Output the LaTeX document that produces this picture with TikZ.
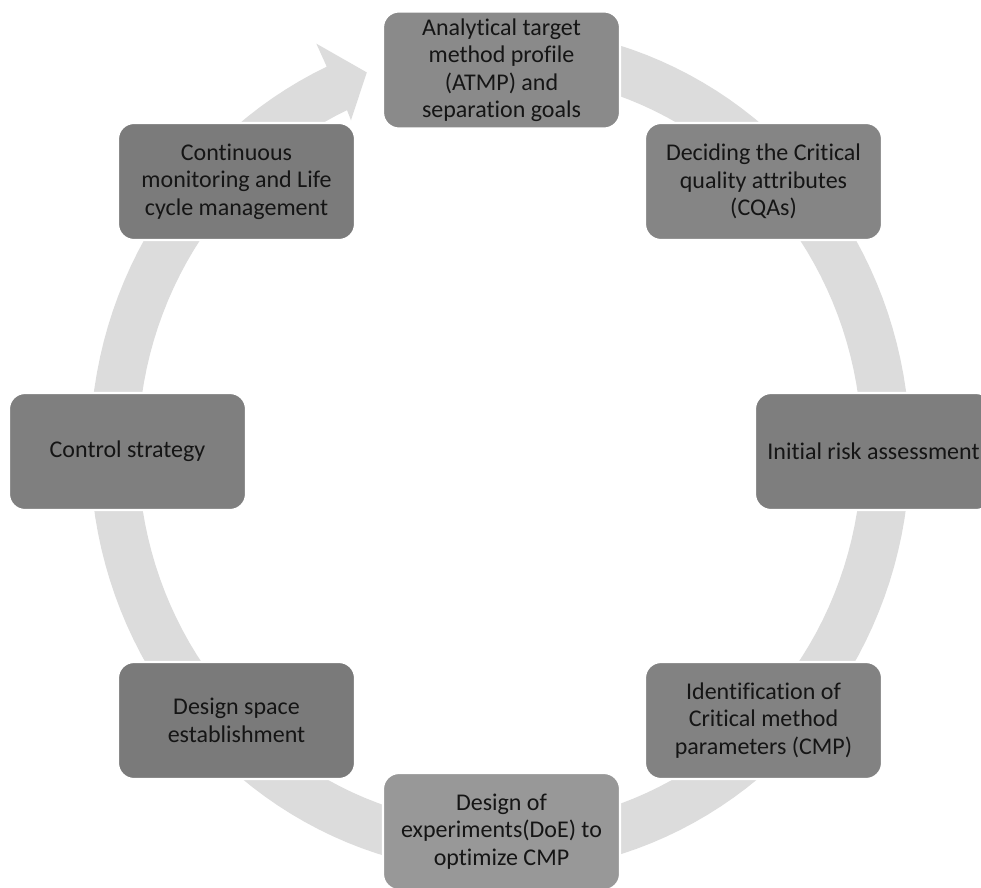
\documentclass[tikz,border=0pt]{standalone}
\usepackage{fontspec}
\setmainfont{Carlito}[Ligatures={NoCommon,NoContextual}]
\definecolor{ringgray}{HTML}{DCDCDC}
\definecolor{boxA}{HTML}{8A8A8A}
\definecolor{boxB}{HTML}{858585}
\definecolor{boxC}{HTML}{7E7E7E}
\definecolor{boxD}{HTML}{828282}
\definecolor{boxE}{HTML}{989898}
\definecolor{boxF}{HTML}{7A7A7A}
\definecolor{boxG}{HTML}{7F7F7F}
\definecolor{boxH}{HTML}{7B7B7B}
\definecolor{txt}{HTML}{151515}
\begin{document}
\begin{tikzpicture}[x=0.75pt,y=-0.75pt,
  stage/.style={draw=white, line width=1.6pt, rounded corners=12pt,
    minimum width=177.75pt, minimum height=87.75pt, inner sep=0pt,
    align=center, text=txt, font=\fontsize{18}{20.6}\selectfont}]
\path[use as bounding box, clip] (0,0) rectangle (981,888);
% circular arrow band
\fill[ringgray]
  plot[domain=-80:245, samples=150] ({500+410*cos(\x)},{450+423*sin(\x)})
  -- ({500+1.06*410*cos(245)},{450+1.06*423*sin(245)})
  -- ({500+0.95*410*cos(250)},{450+0.95*423*sin(250)})
  -- ({500+0.86*410*cos(245)},{450+0.86*423*sin(245)})
  -- plot[domain=245:-80, samples=150] ({500+362*cos(\x)},{450+375*sin(\x)})
  -- cycle;
% stages
\node[stage, fill=boxA] (atmp) at (501.5,70) {Analytical target\\method profile\\(ATMP) and\\separation goals};
\node[stage, fill=boxB] (cqa) at (763.5,181.5) {Deciding the Critical\\quality attributes\\(CQAs)};
\node[stage, fill=boxC] (risk) at (873.5,451.5) {Initial risk assessment};
\node[stage, fill=boxD] (cmp) at (763.5,720.5) {Identification of\\Critical method\\parameters (CMP)};
\node[stage, fill=boxE] (doe) at (501.5,831.5) {Design of\\experiments(DoE) to\\optimize CMP};
\node[stage, fill=boxF] (dspace) at (236.5,720.5) {Design space\\establishment};
\node[stage, fill=boxG] (control) at (127.5,451.5) {Control strategy};
\node[stage, fill=boxH] (monitor) at (236.5,181.5) {Continuous\\monitoring and Life\\cycle management};
\end{tikzpicture}
\end{document}
